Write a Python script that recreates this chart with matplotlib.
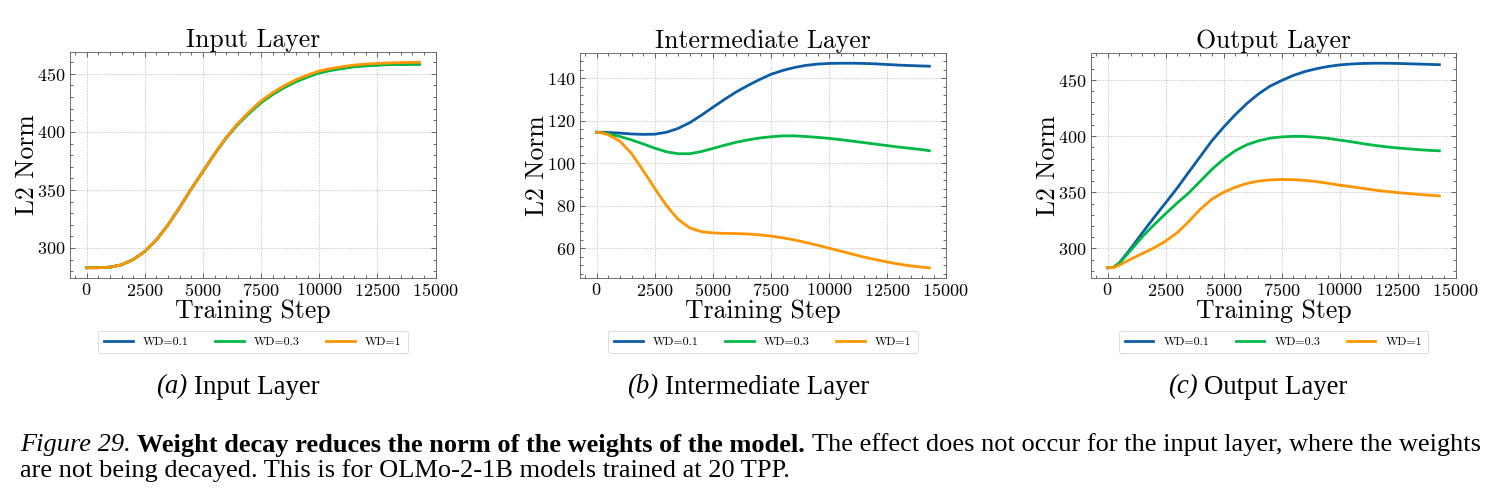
import numpy as np
import matplotlib
matplotlib.use("Agg")
import matplotlib.pyplot as plt
from matplotlib.ticker import AutoMinorLocator

steps = [0, 250, 500, 1000, 1500, 2000, 2500, 3000, 3500, 4000, 4500, 5000,
         5500, 6000, 6500, 7000, 7500, 8000, 8500, 9000, 9500, 10000,
         10500, 11000, 11500, 12000, 12500, 13000, 13500, 14000, 14300]

labels = ["WD=0.1", "WD=0.3", "WD=1"]
colors = ["#0C5DA5", "#00B945", "#FF9500"]

# input layer
input_wd01 = [283, 283, 283, 283.5, 285.5, 290, 297, 307, 320, 335, 351, 366,
              381, 395, 407, 417, 426, 433, 439, 444, 448, 451.5,
              453.5, 455, 456.5, 457.2, 457.8, 458.2, 458.4, 458.5, 458.5]
input_wd03 = [283, 283, 283, 283.5, 285.5, 290, 297, 307, 320, 335, 351, 366,
              381, 394.8, 406.5, 416.3, 425.2, 432.2, 438.2, 443.2, 447.3, 450.8,
              453, 454.6, 456.1, 456.9, 457.5, 457.9, 458.1, 458.2, 458.3]
input_wd1 = [283, 283, 283, 283.5, 285.5, 290, 297, 307, 320, 335, 351, 366,
             381, 395.2, 407.4, 417.6, 426.7, 433.8, 439.9, 445, 449, 452.5,
             454.6, 456.2, 457.6, 458.4, 459, 459.4, 459.7, 459.9, 460]

# intermediate layer
inter_wd01 = [114.5, 114.5, 114.4, 114.1, 113.7, 113.5, 113.6, 114.5, 116.3, 119, 122.5, 126.3,
              130, 133.5, 136.5, 139.3, 141.8, 143.6, 145, 146, 146.6, 146.9,
              147, 147, 146.9, 146.7, 146.4, 146.1, 145.9, 145.7, 145.6]
inter_wd03 = [114.5, 114.2, 113.8, 112.5, 110.9, 109, 107, 105.3, 104.4, 104.4, 105.4, 106.9,
              108.4, 109.8, 110.9, 111.8, 112.4, 112.8, 112.8, 112.5, 112.1, 111.6,
              111, 110.3, 109.6, 108.9, 108.2, 107.5, 106.9, 106.3, 105.8]
inter_wd1 = [114.5, 114.2, 113.3, 110.3, 104.5, 96.5, 88, 80, 73.5, 69.5, 67.7, 67.1,
             66.9, 66.8, 66.6, 66.2, 65.6, 64.8, 63.8, 62.6, 61.3, 59.9,
             58.5, 57.1, 55.7, 54.5, 53.4, 52.4, 51.6, 51, 50.7]

# output layer
output_wd01 = [282.8, 283.2, 287, 300, 314, 327.5, 340.6, 353.8, 368, 382, 396, 408,
               419, 429, 437.5, 444.5, 449.5, 454, 457.5, 460, 462, 463.4,
               464.2, 464.7, 464.9, 464.9, 464.7, 464.4, 464.1, 463.8, 463.6]
output_wd03 = [282.8, 283.2, 286.5, 298.5, 310.5, 321, 331, 340.5, 349.5, 360, 370.5, 379.5,
               387, 392.3, 395.8, 398.2, 399.3, 399.8, 399.7, 399, 398, 396.5,
               395, 393.3, 391.8, 390.5, 389.5, 388.6, 387.8, 387.2, 386.9]
output_wd1 = [282.8, 283, 285, 290.5, 295.5, 300.5, 306.5, 314, 324, 335, 344, 350,
              354.5, 357.8, 360, 361, 361.4, 361.2, 360.6, 359.5, 358, 356.3,
              355, 353.5, 352, 350.8, 349.7, 348.8, 348, 347.2, 346.8]

titles = ["Input Layer", "Intermediate Layer", "Output Layer"]
sub_tags = ["(a)", "(b)", "(c)"]
panels = [
    [input_wd01, input_wd03, input_wd1],
    [inter_wd01, inter_wd03, inter_wd1],
    [output_wd01, output_wd03, output_wd1],
]

plt.rcParams["font.family"] = "cmr10"
plt.rcParams["mathtext.fontset"] = "cm"
plt.rcParams["axes.formatter.use_mathtext"] = True

fig = plt.figure(figsize=(14.95, 4.98), dpi=100)
W, H = 1495, 498

# axes boxes in pixels: left, right, top, bottom
boxes = [(70, 436, 52, 278), (580, 946, 53, 278), (1091, 1456, 53, 278)]
sub_centers = [238, 748, 1258]

for i, (l, r, t, b) in enumerate(boxes):
    ax = fig.add_axes([l / W, 1 - b / H, (r - l) / W, (b - t) / H])
    for ys, lab, c in zip(panels[i], labels, colors):
        ax.plot(steps, ys, color=c, lw=2.0, label=lab)
    ax.set_title(titles[i], fontsize=18.5, pad=3)
    ax.set_xlabel("Training Step", fontsize=18.5, labelpad=0)
    ax.set_ylabel("L2 Norm", fontsize=18.5, labelpad=-1)
    ax.set_xticks([0, 2500, 5000, 7500, 10000, 12500, 15000])
    ax.xaxis.set_minor_locator(AutoMinorLocator(5))
    ax.yaxis.set_minor_locator(AutoMinorLocator(5))
    ax.tick_params(which="both", direction="in", top=True, right=True,
                   labelsize=13, width=0.6, color="0.3")
    ax.tick_params(which="major", length=3.5, pad=3)
    ax.tick_params(which="minor", length=2)
    ax.grid(True, which="major", color="0.7", linestyle=(0, (2, 2)), lw=0.5)
    for s in ax.spines.values():
        s.set_linewidth(0.6)
        s.set_color("0.35")
    leg = ax.legend(loc="center", bbox_to_anchor=(0.5, -0.283), ncol=3,
                    fontsize=8.6, frameon=True, fancybox=True,
                    handlelength=2.4, columnspacing=2.2, handletextpad=0.85,
                    borderpad=0.5)
    leg.get_frame().set_linewidth(0.6)
    leg.get_frame().set_edgecolor("0.8")

fig.canvas.draw()
renderer = fig.canvas.get_renderer()


def text_width(s, **kw):
    tx = fig.text(0, 0, s, **kw)
    w = tx.get_window_extent(renderer).width
    tx.remove()
    return w


serif = "Liberation Serif"

# sub-figure captions
for tag, title, cx in zip(sub_tags, titles, sub_centers):
    kw_i = dict(family=serif, style="italic", fontsize=19.3)
    kw_r = dict(family=serif, fontsize=19.3)
    gap = text_width("a a", **kw_r) - text_width("aa", **kw_r)
    w1 = text_width(tag, **kw_i)
    w2 = text_width(title, **kw_r)
    x0 = cx - (w1 + gap + w2) / 2
    y = 1 - 387 / H
    fig.text(x0 / W, y, tag, va="center", **kw_i)
    fig.text((x0 + w1 + gap) / W, y, title, va="center", **kw_r)

# figure caption, written in pieces with different styles
cap_size = 19.0
line1 = [("Figure 29.", dict(style="italic")),
         ("Weight decay reduces the norm of the weights of the model.", dict(weight="bold")),
         ("The effect does not occur for the input layer, where the weights", dict())]
line2 = [("are not being decayed. This is for OLMo-2-1B models trained at 20 TPP.", dict())]

gap = text_width("a a", family=serif, fontsize=cap_size) - text_width("aa", family=serif, fontsize=cap_size)
for pieces, ypix in [(line1, 445), (line2, 471)]:
    x = 20
    for s, st in pieces:
        kw = dict(family=serif, fontsize=cap_size, **st)
        fig.text(x / W, 1 - ypix / H, s, va="center", **kw)
        x += text_width(s, **kw) + gap

fig.savefig("out.png", dpi=100)
